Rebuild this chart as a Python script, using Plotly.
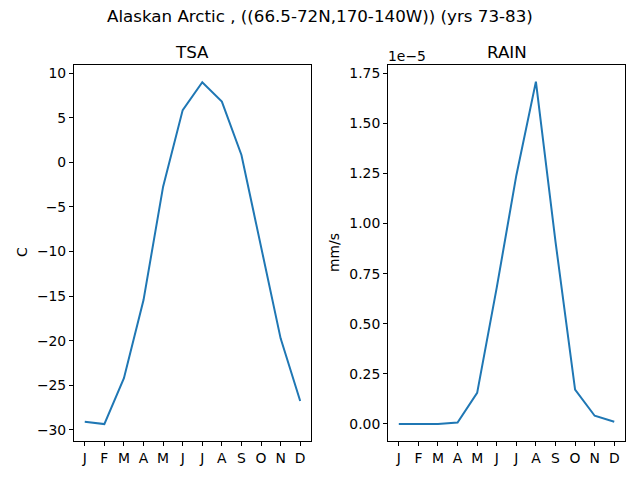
import plotly.graph_objects as go

months = ["J", "F", "M", "A", "M", "J", "J", "A", "S", "O", "N", "D"]
tsa = [-29.1, -29.35, -24.2, -15.45, -2.73, 5.85, 8.97, 6.8, 0.82, -9.3, -19.74, -26.77]
rain_e5 = [0.0, -0.001, 0.0, 0.007, 0.155, 0.68, 1.24, 1.708, 0.91, 0.171, 0.041, 0.011]
rain = [v * 1e-5 for v in rain_e5]
rain_ticks = [0.0, 0.25, 0.5, 0.75, 1.0, 1.25, 1.5, 1.75]

x = list(range(len(months)))
font = "DejaVu Sans"
color = "#1f77b4"
fs_small = 13.9
fs_big = 16.7

fig = go.Figure()
fig.add_trace(go.Scatter(x=x, y=tsa, mode="lines", line=dict(color=color, width=2),
                         xaxis="x", yaxis="y", showlegend=False))
fig.add_trace(go.Scatter(x=x, y=rain, mode="lines", line=dict(color=color, width=2),
                         xaxis="x2", yaxis="y2", showlegend=False))

ax_common = dict(showline=True, mirror=True, linecolor="black", linewidth=1,
                 ticks="outside", ticklen=4, tickcolor="black", tickwidth=1,
                 showgrid=False, zeroline=False,
                 tickfont=dict(family=font, size=fs_small, color="black"))

fig.update_layout(
    width=640, height=480,
    margin=dict(l=0, r=0, t=0, b=0),
    paper_bgcolor="white", plot_bgcolor="white",
    font=dict(family=font, color="black"),
    xaxis=dict(domain=[0.1156, 0.4859], range=[-0.55, 11.55], tickvals=x, ticktext=months,
               anchor="y", **ax_common),
    yaxis=dict(domain=[0.08125, 0.8646], range=[-31.25, 10.91], dtick=5, tick0=0,
               anchor="x", **ax_common),
    xaxis2=dict(domain=[0.6063, 0.9766], range=[-0.55, 11.55], tickvals=x, ticktext=months,
                anchor="y2", **ax_common),
    yaxis2=dict(domain=[0.08125, 0.8646], range=[-0.085e-5, 1.791e-5],
                tickvals=[t * 1e-5 for t in rain_ticks],
                ticktext=["%.2f" % t for t in rain_ticks],
                anchor="x2", **ax_common),
)

annots = [
    dict(text="Alaskan Arctic , ((66.5-72N,170-140W)) (yrs 73-83)", x=0.5, y=1 - 16 / 480,
         xref="paper", yref="paper", xanchor="center", yanchor="middle", showarrow=False,
         font=dict(family=font, size=fs_big)),
    dict(text="TSA", x=(0.1156 + 0.4859) / 2, y=1 - 52 / 480, xref="paper", yref="paper",
         xanchor="center", yanchor="middle", showarrow=False, font=dict(family=font, size=fs_big)),
    dict(text="RAIN", x=(0.6063 + 0.9766) / 2, y=1 - 52 / 480, xref="paper", yref="paper",
         xanchor="center", yanchor="middle", showarrow=False, font=dict(family=font, size=fs_big)),
    dict(text="C", x=22 / 640, y=1 - 252 / 480, xref="paper", yref="paper", textangle=-90,
         xanchor="center", yanchor="middle", showarrow=False, font=dict(family=font, size=fs_small)),
    dict(text="mm/s", x=334 / 640, y=1 - 253 / 480, xref="paper", yref="paper", textangle=-90,
         xanchor="center", yanchor="middle", showarrow=False, font=dict(family=font, size=fs_small)),
    dict(text="1e\u22125", x=386 / 640, y=1 - 56 / 480, xref="paper", yref="paper",
         xanchor="left", yanchor="middle", showarrow=False, font=dict(family=font, size=fs_small)),
]
fig.update_layout(annotations=annots)

fig.write_html("out.html", config={"displayModeBar": False},
               post_script="document.body.style.margin='0';document.body.style.padding='0';")
